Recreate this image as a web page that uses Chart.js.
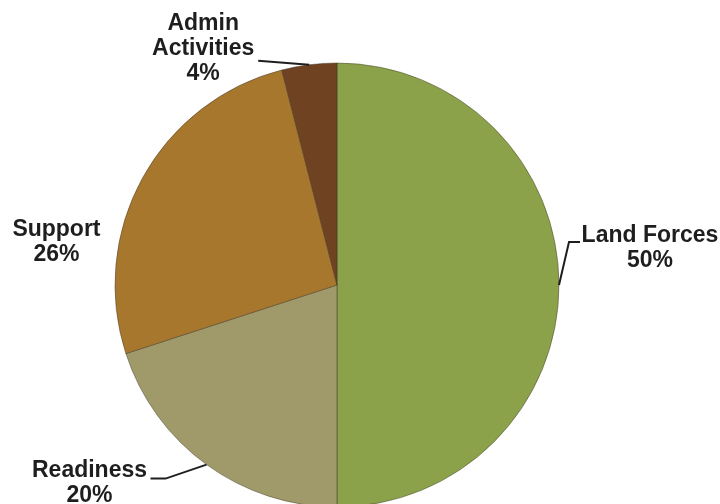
<!DOCTYPE html>
<html>
<head>
<meta charset="utf-8">
<script src="https://cdn.jsdelivr.net/npm/chart.js@4.4.1/dist/chart.umd.min.js"></script>
<style>
  html, body { margin: 0; padding: 0; background: #fff; overflow: hidden; }
  #wrap { width: 720px; height: 504px; }
</style>
</head>
<body>
<div id="wrap"><canvas id="pie" width="720" height="504"></canvas></div>
<script>
// Slice data, clockwise from 12 o'clock
const categories = ['Land Forces', 'Readiness', 'Support', 'Admin Activities'];
const shares = [50, 20, 26, 4];
const labelLines = [['Land Forces', '50%'], ['Readiness', '20%'], ['Support', '26%'], ['Admin', 'Activities', '4%']];

// Colours: base fill and lighter rim
const baseColors = ['#8ba24b', '#a09a6a', '#a8772e', '#6f4222'];
const rimColors = ['#a3bb5a', '#b8b283', '#bc8a3c', '#875230'];

// Label placement relative to the slice's mid-angle point on the rim
// text: [dx, dy] of the first line centre; leader: list of [dx, dy] points after the anchor
const labelLayout = [
    { text: [91, -49], leader: [[10, -43], [21, -43]] },
    { text: [-117, 6], leader: [[-41, 14], [-56, 14]] },
    { text: [-86, 52], leader: [] },
    { text: [-106, -41], leader: [[-51, -4]] }
];
const lineGap = 25;

function rimGradient(context) {
    const chart = context.chart;
    const arc = chart.getDatasetMeta(0).data[context.dataIndex];
    if (!arc || !arc.outerRadius) return baseColors[context.dataIndex];
    const g = chart.ctx.createRadialGradient(arc.x, arc.y, 0, arc.x, arc.y, arc.outerRadius);
    g.addColorStop(0, baseColors[context.dataIndex]);
    g.addColorStop(0.92, baseColors[context.dataIndex]);
    g.addColorStop(0.97, rimColors[context.dataIndex]);
    g.addColorStop(1, baseColors[context.dataIndex]);
    return g;
}

// Draw category labels and leader lines
const calloutPlugin = {
    id: 'callouts',
    afterDatasetsDraw(chart) {
        const ctx = chart.ctx;
        const arcs = chart.getDatasetMeta(0).data;
        ctx.save();
        ctx.font = 'bold 23px "Liberation Sans", Arial, sans-serif';
        ctx.fillStyle = '#1e1e1e';
        ctx.strokeStyle = '#1e1e1e';
        ctx.lineWidth = 2;
        ctx.textAlign = 'center';
        ctx.textBaseline = 'middle';
        arcs.forEach((arc, i) => {
            const mid = (arc.startAngle + arc.endAngle) / 2;
            const ax = arc.x + arc.outerRadius * Math.cos(mid);
            const ay = arc.y + arc.outerRadius * Math.sin(mid);
            const layout = labelLayout[i];
            if (layout.leader.length) {
                ctx.beginPath();
                ctx.moveTo(ax, ay);
                layout.leader.forEach(p => ctx.lineTo(ax + p[0], ay + p[1]));
                ctx.stroke();
            }
            labelLines[i].forEach((line, k) => {
                ctx.fillText(line, ax + layout.text[0], ay + layout.text[1] + k * lineGap);
            });
        });
        ctx.restore();
    }
};

new Chart(document.getElementById('pie'), {
    type: 'pie',
    data: {
        labels: categories,
        datasets: [{
            data: shares,
            backgroundColor: rimGradient,
            borderColor: 'rgba(60, 50, 30, 0.45)',
            borderWidth: 1
        }]
    },
    options: {
        responsive: false,
        animation: false,
        radius: 222,
        layout: { padding: { left: 0, right: 46, top: 66, bottom: 0 } },
        plugins: {
            legend: { display: false },
            tooltip: { enabled: false }
        }
    },
    plugins: [calloutPlugin]
});
</script>
</body>
</html>
